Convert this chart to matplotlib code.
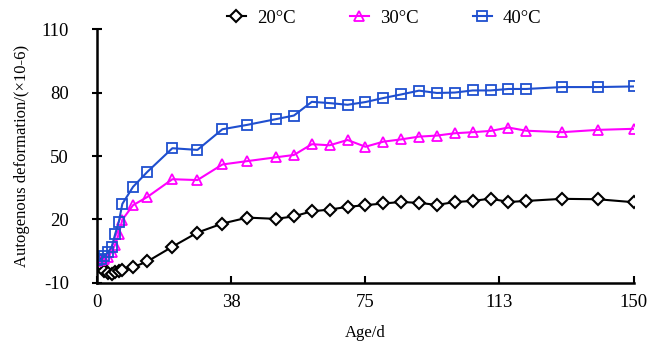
import matplotlib.pyplot as plt

# Возраст образцов, сут
days = [0, 1, 2, 3, 4, 5, 6, 7, 10, 14, 21, 28, 35, 42, 50, 55, 60, 65, 70,
        75, 80, 85, 90, 95, 100, 105, 110, 115, 120, 130, 140, 150]

# Аутогенная деформация, x10-6
t20 = [0.2, -1.5, -4.3, -5.6, -5.9, -5.1, -4.6, -4.0, -2.7, 0.0, 7.0, 13.7,
       18.0, 20.8, 20.2, 21.4, 23.8, 24.6, 25.9, 26.7, 27.5, 28.2, 27.8, 26.8,
       28.2, 28.7, 29.8, 28.2, 28.7, 29.7, 29.5, 28.1]
t30 = [0.3, 0.5, 1.2, 2.3, 4.5, 8.0, 13.0, 19.8, 26.7, 30.6, 39.0, 38.6,
       46.0, 47.6, 49.4, 50.5, 55.6, 55.1, 57.6, 54.4, 56.8, 57.9, 59.2, 59.7,
       60.8, 61.3, 61.9, 63.5, 62.0, 61.3, 62.4, 62.9]
t40 = [0.5, 1.0, 2.5, 4.4, 6.8, 13.0, 18.7, 27.3, 35.4, 42.5, 53.7, 52.9,
       62.7, 64.8, 67.5, 69.2, 75.7, 75.1, 74.3, 75.6, 77.5, 79.2, 81.0, 79.9,
       80.1, 81.1, 81.1, 81.8, 81.8, 82.7, 82.7, 83.0]

xticks = [0, 37.5, 75, 112.5, 150]
xtick_labels = ['0', '38', '75', '113', '150']
yticks = [-10, 20, 50, 80, 110]

plt.rcParams['font.family'] = ['Liberation Serif', 'DejaVu Serif']
plt.rcParams['axes.unicode_minus'] = False

fig = plt.figure(figsize=(6.62, 3.45), dpi=100)
ax = fig.add_axes([0.147, 0.181, 0.81, 0.7335])

ax.plot(days, t20, '-', color='black', lw=1.5, marker='D', ms=6.5,
        mfc='white', mew=1.5, label='20°C')
ax.plot(days, t30, '-', color='#ff00ff', lw=1.5, marker='^', ms=7.5,
        mfc='none', mew=1.3, label='30°C')
ax.plot(days, t40, '-', color='#1f4fcf', lw=1.5, marker='s', ms=7.5,
        mfc='none', mew=1.3, label='40°C')

ax.set_xlim(0, 150)
ax.set_ylim(-10, 110)
ax.set_xticks(xticks)
ax.set_xticklabels(xtick_labels)
ax.set_yticks(yticks)

for s in ['top', 'right']:
    ax.spines[s].set_visible(False)
for s in ['left', 'bottom']:
    ax.spines[s].set_linewidth(1.8)
ax.tick_params(axis='x', direction='in', length=5, width=1.5, labelsize=13.5, pad=8)
ax.tick_params(axis='y', direction='inout', length=7, width=1.5, labelsize=13.5, pad=17)

ax.set_xlabel('Age/d', fontsize=12, labelpad=10)
ax.set_ylabel('Autogenous deformation/(×10-6)', fontsize=12, labelpad=8)

leg = ax.legend(loc='lower center', bbox_to_anchor=(0.535, 0.945), ncol=3,
                frameon=False, fontsize=13.5, handlelength=1.0,
                columnspacing=2.9, handletextpad=0.6)

fig.savefig('out.png', dpi=100)
